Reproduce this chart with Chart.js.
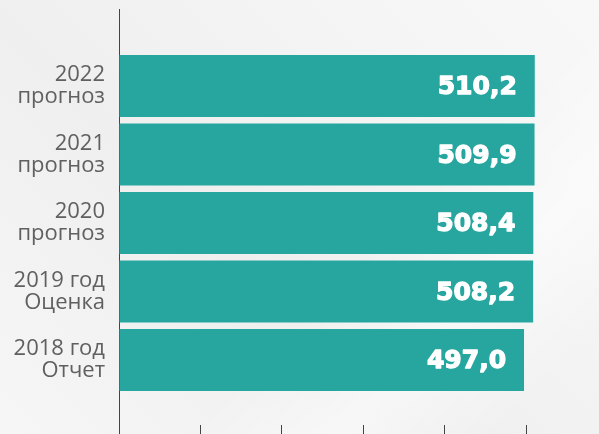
<!DOCTYPE html>
<html lang="ru">
<head>
<meta charset="UTF-8">
<title>Прогноз</title>
<script src="https://cdn.jsdelivr.net/npm/chart.js@4.4.1/dist/chart.umd.min.js"></script>
<style>
  html, body { margin: 0; padding: 0; }
  body {
    width: 599px; height: 434px; overflow: hidden;
    background:
      linear-gradient(135deg, rgba(255,255,255,0) 60%, rgba(255,255,255,0.5) 75%, rgba(255,255,255,0) 90%),
      linear-gradient(45deg, #f6f6f7 0%, #efeff0 40%, #f4f4f5 70%, #f8f8f8 100%);
  }
  #wrap { position: relative; width: 599px; height: 434px; }
</style>
</head>
<body>
<div id="wrap"><canvas id="chart"></canvas></div>
<script>
// categories from top to bottom
const categories = [
  ['2022', 'прогноз'],
  ['2021', 'прогноз'],
  ['2020', 'прогноз'],
  ['2019 год', 'Оценка'],
  ['2018 год', 'Отчет']
];
const values = [510.2, 509.9, 508.4, 508.2, 497.0];
const xTicks = [0, 100, 200, 300, 400, 500];

// white bold numbers inside the bar ends
const valueLabels = {
  id: 'valueLabels',
  afterDatasetsDraw(chart) {
    const ctx = chart.ctx;
    const meta = chart.getDatasetMeta(0);
    ctx.save();
    ctx.fillStyle = '#ffffff';
    ctx.strokeStyle = '#ffffff';
    ctx.lineWidth = 1.3;
    ctx.lineJoin = 'round';
    ctx.font = 'bold 25px "DejaVu Sans"';
    ctx.textAlign = 'right';
    ctx.textBaseline = 'middle';
    meta.data.forEach((bar, i) => {
      const txt = values[i].toFixed(1).replace('.', ',');
      ctx.fillText(txt, bar.x - 18, bar.y + 2);
      ctx.strokeText(txt, bar.x - 18, bar.y + 2);
    });
    ctx.restore();
  }
};

new Chart(document.getElementById('chart'), {
  type: 'bar',
  data: {
    datasets: [{
      data: values.map((v, i) => ({ x: v, y: i })),
      backgroundColor: '#26a69f',
      borderWidth: 0,
      barPercentage: 1,
      categoryPercentage: 0.905
    }]
  },
  options: {
    indexAxis: 'y',
    responsive: true,
    maintainAspectRatio: false,
    animation: false,
    layout: { autoPadding: false, padding: { top: 9, right: 0, bottom: 0, left: 0 } },
    plugins: {
      legend: { display: false },
      tooltip: { enabled: false }
    },
    scales: {
      x: {
        type: 'linear',
        position: 'bottom',
        min: 0,
        max: 589,
        afterBuildTicks(scale) {
          scale.ticks = xTicks.map(v => ({ value: v }));
        },
        afterFit(scale) { scale.paddingLeft = 0; scale.paddingRight = 0; },
        grid: { drawOnChartArea: false, drawTicks: true, tickLength: 9, color: '#444444' },
        border: { display: false },
        ticks: { display: false }
      },
      y: {
        type: 'linear',
        reverse: true,
        offset: false,
        min: -1.124,
        max: 4.949,
        afterBuildTicks(scale) {
          scale.ticks = categories.map((c, i) => ({ value: i }));
        },
        afterFit(scale) {
          scale.width = 119;
          scale.paddingTop = 0;
          scale.paddingBottom = 0;
        },
        grid: { drawOnChartArea: false, drawTicks: false, offset: false },
        border: { display: true, color: '#444444', width: 1 },
        ticks: {
          padding: 14,
          color: '#606060',
          font: { family: '"Open Sans"', size: 22, lineHeight: 1.0 },
          callback: (v) => categories[v] || ''
        }
      }
    }
  },
  plugins: [valueLabels]
});
</script>
</body>
</html>
